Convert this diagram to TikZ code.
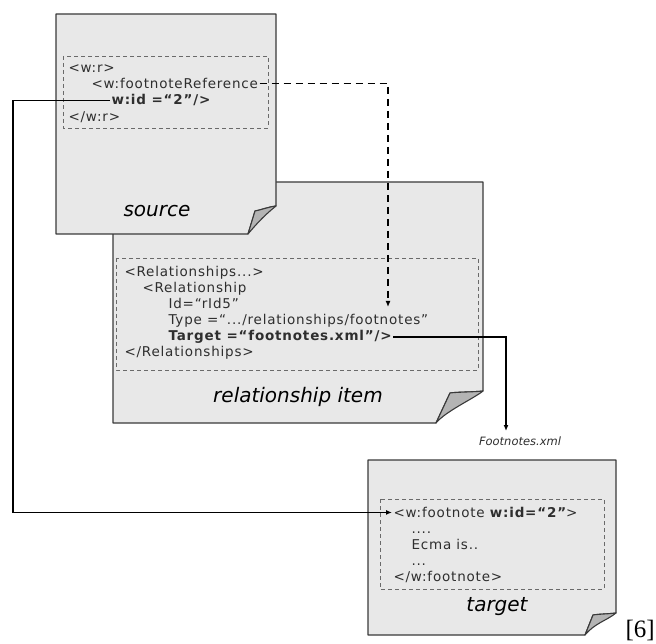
\documentclass[tikz,border=0pt]{standalone}
\usepackage{fontspec}
\usetikzlibrary{arrows.meta}
\newfontfamily\codefont{DejaVu Sans}[LetterSpace=6]
\newfontfamily\labfont{DejaVu Sans}
\newfontfamily\refserif{Liberation Serif}
\definecolor{docfill}{HTML}{E8E8E8}
\definecolor{foldfill}{HTML}{B4B4B4}
\definecolor{docedge}{HTML}{3A3A3A}
\definecolor{codetext}{HTML}{2E2E2E}
\definecolor{boxedge}{HTML}{6A6A6A}
\tikzset{
  docline/.style={draw=docedge, line width=1.1pt, fill=docfill, line join=round},
  foldline/.style={draw=docedge, line width=1.1pt, fill=foldfill, line join=round},
  innerbox/.style={draw=boxedge, line width=0.8pt, dash pattern=on 4pt off 3pt},
  code/.style={anchor=base west, inner sep=0pt, outer sep=1.5pt, text=codetext, font=\codefont\fontsize{13.5}{16}\selectfont},
  doclabel/.style={anchor=center, inner sep=0pt, text=black, font=\labfont\itshape\fontsize{20}{22}\selectfont},
  conn/.style={line width=1.6pt, -{Latex[length=6pt,width=5pt]}},
  dconn/.style={line width=1.6pt, dash pattern=on 7pt off 5pt, -{Latex[length=6pt,width=5pt]}}
}
% L, T, R, B, fold-y on right edge, tip x, tip y, bottom x
\newcommand{\pagedoc}[8]{%
  \draw[docline] (#1,#2) -- (#3,#2) -- (#3,#5) .. controls (#3-8,#5+1) and (#6+6,#7-1) .. (#6,#7) -- (#8,#4) -- (#1,#4) -- cycle;
  \draw[foldline] (#3,#5) .. controls (#3-8,#5+1) and (#6+6,#7-1) .. (#6,#7) -- (#8,#4) .. controls (#8+10,#4-12) and (#3-10,#5+8) .. (#3,#5) -- cycle;
}
\begin{document}
\begin{tikzpicture}[x=1pt,y=-1pt]
\useasboundingbox (0,0) rectangle (656,644);

% relationship item (behind source)
\pagedoc{113}{182}{483}{423}{391}{450}{393}{436}
\draw[innerbox] (116,258) rectangle (478,370);
% source
\pagedoc{56}{14}{276}{234}{206}{255}{211}{248}
\draw[innerbox] (63,56) rectangle (268,128);
% target
\pagedoc{368}{460}{616}{635}{613}{593}{615}{585}
\draw[innerbox] (380,499) rectangle (604,589);

% source text
\node[code] (wr1) at (67,72.5) {<w:r>};
\node[code] (fr) at (90,88.5) {<w:footnoteReference};
\node[code] (wid) at (110,105) {\bfseries w:id =“2”/>};
\node[code] (wr2) at (67,121.5) {</w:r>};
\node[doclabel] (srclab) at (157,211) {source};

% relationship text
\node[code] (rs1) at (123,276.5) {<Relationships...>};
\node[code] (rel) at (141,292.5) {<Relationship};
\node[code] (rid) at (167,308.5) {Id=“rId5”};
\node[code] (ty) at (167,324.5) {Type =“.../relationships/footnotes”};
\node[code] (tg) at (167,340.5) {\bfseries Target =“footnotes.xml”/>};
\node[code] (rs2) at (123,356.5) {</Relationships>};
\node[doclabel] (rellab) at (298,397) {relationship item};

% target text
\node[anchor=center, inner sep=0pt, font=\labfont\itshape\fontsize{11.5}{13}\selectfont, text=codetext] (fx) at (520,441) {Footnotes.xml};
\node[code] (tl1) at (392,517.5) {<w:footnote {\bfseries w:id=“2”}>};
\node[code] (tl2) at (410,533.5) {....};
\node[code] (tl3) at (410,549.5) {Ecma is..};
\node[code] (tl4) at (410,565.5) {...};
\node[code] (tl5) at (392,581.5) {</w:footnote>};
\node[doclabel] (tgtlab) at (497,607) {target};

\node[anchor=base east, inner sep=0pt, font=\refserif\fontsize{25}{27}\selectfont] (ref) at (655,637) {[6]};

% connectors
\coordinate (dj) at (388,307);
\coordinate (ft) at (506,431);
\coordinate (lc) at (13,0);
\draw[dconn] (fr.east) -| (dj);
\draw[conn] (tg.east) -| (ft);
\draw[conn] (wid.west) -- (wid.west -| lc) |- (tl1.west);
\end{tikzpicture}
\end{document}
